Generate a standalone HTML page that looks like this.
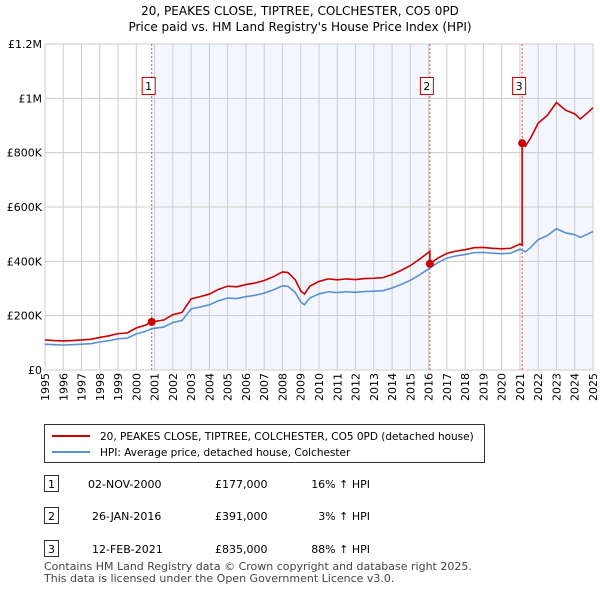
<!DOCTYPE html>
<html><head><meta charset="utf-8"><style>
body{margin:0;background:#fff;font-family:"Liberation Sans","DejaVu Sans",sans-serif;}
svg text{font-family:"DejaVu Sans","Liberation Sans",sans-serif;}
</style></head><body>
<svg id="c" width="600" height="590" xmlns="http://www.w3.org/2000/svg">
<text x="300" y="15" text-anchor="middle" font-size="12">20, PEAKES CLOSE, TIPTREE, COLCHESTER, CO5 0PD</text>
<text x="300" y="31" text-anchor="middle" font-size="12">Price paid vs. HM Land Registry's House Price Index (HPI)</text>
<g id="plot"></g>
<g>
<rect x="44.5" y="424.5" width="440" height="38" fill="#fff" stroke="#333"/>
<line x1="52" y1="436" x2="90" y2="436" stroke="#cc0000" stroke-width="2"/>
<text x="100" y="440" font-size="10.5">20, PEAKES CLOSE, TIPTREE, COLCHESTER, CO5 0PD (detached house)</text>
<line x1="52" y1="452" x2="90" y2="452" stroke="#5b8fd4" stroke-width="2"/>
<text x="100" y="456" font-size="10.5">HPI: Average price, detached house, Colchester</text>
</g>
<g font-size="11">
<rect x="44.5" y="475.5" width="14" height="16" fill="#fff" stroke="#333"/><text x="51.5" y="488" text-anchor="middle">1</text>
<text x="88" y="488">02-NOV-2000</text><text x="215" y="488">£177,000</text><text x="370" y="488" text-anchor="end">16% ↑ HPI</text>
<rect x="44.5" y="507.5" width="14" height="16" fill="#fff" stroke="#333"/><text x="51.5" y="520" text-anchor="middle">2</text>
<text x="92" y="520">26-JAN-2016</text><text x="215" y="520">£391,000</text><text x="370" y="520" text-anchor="end">3% ↑ HPI</text>
<rect x="44.5" y="540.5" width="14" height="16" fill="#fff" stroke="#333"/><text x="51.5" y="553" text-anchor="middle">3</text>
<text x="92" y="553">12-FEB-2021</text><text x="215" y="553">£835,000</text><text x="370" y="553" text-anchor="end">88% ↑ HPI</text>
</g>
<text x="44" y="570" font-size="11" fill="#444">Contains HM Land Registry data © Crown copyright and database right 2025.</text>
<text x="44" y="582" font-size="11" fill="#444">This data is licensed under the Open Government Licence v3.0.</text>
</svg>
<script>
const hpiYears=[1995,1995.5,1996,1996.5,1997,1997.5,1998,1998.5,1999,1999.5,2000,2000.5,2000.84,2001.5,2002,2002.5,2003,2003.5,2004,2004.5,2005,2005.5,2006,2006.5,2007,2007.5,2008,2008.3,2008.7,2009,2009.2,2009.5,2010,2010.5,2011,2011.5,2012,2012.5,2013,2013.5,2014,2014.5,2015,2015.5,2016,2016.5,2017,2017.5,2018,2018.5,2019,2019.5,2020,2020.5,2021,2021.3,2021.6,2022,2022.5,2023,2023.5,2024,2024.3,2024.7,2025];
const hpiValues=[95000,93000,92000,93000,95000,97000,103000,108000,115000,117000,133000,142000,152000,158000,175000,182000,225000,232000,240000,255000,265000,263000,270000,275000,283000,295000,310000,308000,285000,250000,240000,265000,280000,288000,285000,288000,286000,289000,290000,292000,302000,315000,330000,350000,372000,395000,412000,420000,425000,432000,433000,430000,428000,430000,445000,435000,452000,480000,495000,520000,505000,498000,488000,500000,510000];
const saleYears=[2000.84,2016.07,2021.12];
const salePrices=[177000,391000,835000];
const saleLabels=["1","2","3"];
const xTicks=[1995,1996,1997,1998,1999,2000,2001,2002,2003,2004,2005,2006,2007,2008,2009,2010,2011,2012,2013,2014,2015,2016,2017,2018,2019,2020,2021,2022,2023,2024,2025];
const yTicks=[0,200000,400000,600000,800000,1000000,1200000];
const yTickLabels=["£0","£200K","£400K","£600K","£800K","£1M","£1.2M"];

const L=45,R=593,T=44,B=370,NS="http://www.w3.org/2000/svg";
const xs=y=>L+(y-1995)/(2025-1995)*(R-L);
const ys=v=>B-v/1200000*(B-T);
const g=document.getElementById('plot');
function mk(t,a,p){const e=document.createElementNS(NS,t);for(const k in a)e.setAttribute(k,a[k]);(p||g).appendChild(e);return e;}
function hpiAt(t){for(let i=1;i<hpiYears.length;i++){if(t<=hpiYears[i]){const f=(t-hpiYears[i-1])/(hpiYears[i]-hpiYears[i-1]);return hpiValues[i-1]+f*(hpiValues[i]-hpiValues[i-1]);}}return hpiValues[hpiValues.length-1];}
let sh=mk('rect',{x:xs(saleYears[0]),y:T,width:xs(saleYears[1])-xs(saleYears[0]),height:B-T,fill:'#eef3fc',opacity:0.7});


sh=mk('rect',{x:xs(saleYears[2]),y:T,width:R-xs(saleYears[2]),height:B-T,fill:'#eef3fc',opacity:0.7});


for(const t of xTicks){const l=mk('line',{x1:xs(t),x2:xs(t),y1:T,y2:B,stroke:'#ccc'});


const tx=mk('text',{transform:`translate(${xs(t)+4},${B+3}) rotate(-90)`,'text-anchor':'end','font-size':11});tx.textContent=t;

}
yTicks.forEach((v,i)=>{const l=mk('line',{x1:L,x2:R,y1:ys(v),y2:ys(v),stroke:'#ccc'});


const tx=mk('text',{x:L-3,y:ys(v)+4,'text-anchor':'end','font-size':11});tx.textContent=yTickLabels[i];

});
mk('rect',{x:L,y:T,width:R-L,height:B-T,fill:'none',stroke:'#ccc'});
saleYears.forEach((s,i)=>{const x=xs(s);
const l=mk('line',{x1:x,x2:x,y1:T,y2:B,stroke:'#e05050','stroke-dasharray':'2,2','stroke-width':1});


const r=mk('rect',{x:x-9.5,y:77.5,width:13,height:17,fill:'#fff',stroke:'#cc0000'});


const t=mk('text',{x:x-3,y:90,'text-anchor':'middle','font-size':11});t.textContent=saleLabels[i];

});
const hp=mk('polyline',{points:hpiYears.map((y,i)=>xs(y)+','+ys(hpiValues[i])).join(' '),fill:'none',stroke:'#5b8fd4','stroke-width':1.6});


const pts=[];
const ratio0=salePrices[0]/hpiAt(saleYears[0]);
const allT=[...new Set([...hpiYears,...saleYears])].sort((a,b)=>a-b);
for(const t of allT){let k=-1;for(let j=0;j<saleYears.length;j++)if(saleYears[j]<=t)k=j;
if(k>=0&&saleYears[k]===t&&k>0){const pr=salePrices[k-1]/hpiAt(saleYears[k-1]);pts.push([t,hpiAt(t)*pr]);}
const r=k<0?ratio0:salePrices[k]/hpiAt(saleYears[k]);pts.push([t,hpiAt(t)*r]);}
const pl=mk('polyline',{points:pts.map(p=>xs(p[0])+','+ys(p[1])).join(' '),fill:'none',stroke:'#cc0000','stroke-width':1.6});


saleYears.forEach((s,i)=>{const c=mk('circle',{cx:xs(s),cy:ys(salePrices[i]),r:4,fill:'#cc0000'});

});
</script>
</body></html>
